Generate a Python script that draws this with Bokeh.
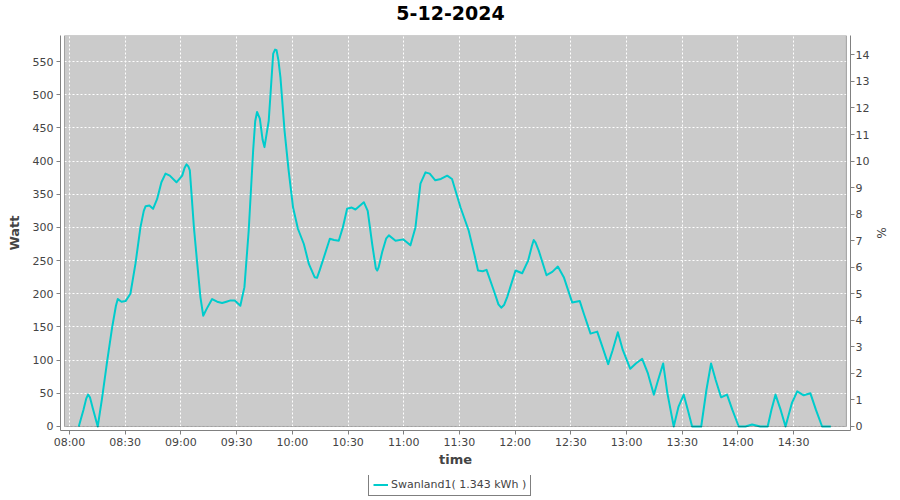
from bokeh.plotting import figure
from bokeh.layouts import column
from bokeh.models import (ColumnDataSource, Range1d, LinearAxis, FixedTicker,
                          BoxAnnotation, Legend, LegendItem, Label)
from bokeh.embed import file_html
from bokeh.resources import INLINE

# ---------------- data ----------------
title_text = "5-12-2024"
series_name = "Swanland1( 1.343 kWh )"

# minutes after 08:00
minutes = [5.0, 7.5, 9.0, 10.0, 11.0, 12.5, 15.2, 17.5, 20.3, 23.0, 25.0, 26.0,
           28.0, 30.2, 32.8, 35.5, 38.2, 40.0, 41.0, 43.0, 45.0, 47.2, 49.5,
           51.7, 54.0, 57.6, 60.7, 62.0, 63.0, 64.0, 64.8, 67.0, 68.8, 70.5,
           72.0, 74.0, 76.8, 79.5, 82.2, 84.5, 86.7, 89.0, 92.0, 94.2, 96.5,
           98.9, 100.0, 101.0, 102.5, 104.0, 105.0, 107.3, 109.7, 110.7, 111.5,
           112.5, 113.6, 115.8, 118.0, 120.4, 123.0, 126.2, 128.9, 132.0, 133.3,
           134.8, 137.0, 140.2, 142.5, 145.0, 147.2, 149.5, 152.0, 154.0, 156.5,
           158.5, 160.6, 163.0, 165.0, 165.7, 166.5, 168.4, 170.5, 172.0, 175.6,
           179.7, 181.5, 183.6, 186.3, 189.0, 191.7, 194.0, 197.0, 200.0, 203.4,
           206.0, 210.6, 215.0, 218.0, 220.0, 222.5, 224.6, 228.5, 231.0, 232.5,
           234.0, 235.7, 240.2, 243.8, 247.0, 249.0, 250.0, 251.0, 252.7, 256.9,
           260.0, 263.0, 266.2, 270.7, 274.8, 277.0, 280.6, 284.2, 287.0, 290.1,
           292.5, 295.3, 298.0, 302.0, 305.0, 308.4, 311.5, 314.7, 317.0, 319.7,
           322.0, 325.4, 328.0, 330.8, 333.0, 335.3, 340.2, 343.0, 345.5, 348.0,
           350.9, 354.1, 357.0, 360.4, 364.0, 367.6, 372.0, 376.0, 378.0, 380.2,
           383.0, 385.6, 389.0, 391.9, 395.4, 399.0, 402.0, 405.3, 410.0]
watts = [0, 25, 42, 48, 44, 28, 0, 42, 99, 150, 182, 192,
         188, 189, 200, 245, 300, 325, 332, 333, 328, 343, 368,
         381, 378, 368, 378, 390, 395, 392, 386, 300, 245, 195,
         167, 178, 192, 188, 186, 188, 190, 190, 182, 210, 295,
         416, 460, 474, 464, 432, 421, 461, 562, 568, 567,
         552, 526, 446, 386, 330, 298, 275, 245, 225, 224,
         236, 255, 283, 281, 280, 300, 328, 330, 327, 333,
         338, 325, 275, 238, 235, 240, 263, 283, 288, 280,
         282, 278, 273, 300, 366, 383, 381, 371, 373, 378,
         373, 330, 295, 260, 235, 234, 236, 205, 184, 179,
         183, 195, 235, 231, 250, 272, 281, 277, 265, 228,
         233, 241, 225, 187, 189, 170, 140, 143, 120, 94,
         115, 142, 115, 87, 95, 102, 80, 48, 70, 95,
         50, 0, 30, 48, 25, 0, 0, 55, 95, 70,
         44, 48, 25, 0, 0, 3, 0, 0, 25, 48,
         25, 0, 35, 53, 47, 50, 25, 0, 0]

tick_minutes = [0, 30, 60, 90, 120, 150, 180, 210, 240, 270, 300, 330, 360, 390]
tick_labels = ["08:00", "08:30", "09:00", "09:30", "10:00", "10:30", "11:00",
               "11:30", "12:00", "12:30", "13:00", "13:30", "14:00", "14:30"]
watt_ticks = [0, 50, 100, 150, 200, 250, 300, 350, 400, 450, 500, 550]
pct_ticks = [0, 1, 2, 3, 4, 5, 6, 7, 8, 9, 10, 11, 12, 13, 14]
watt_per_pct = 40

# ---------------- styling ----------------
FONT = "DejaVu Sans"
TXT = "#444444"
AXIS = "#808080"
BG = "#CBCBCB"
LINE = "#00CCCC"

x_lo, x_hi = -4.85, 420.6
y_lo, y_hi = -6.03, 589.2


def strip(height):
    f = figure(width=900, height=height, output_backend="svg",
               toolbar_location=None, x_range=Range1d(0, 1), y_range=Range1d(0, 1),
               min_border_left=0, min_border_right=0, min_border_top=0,
               min_border_bottom=0, x_axis_location=None, y_axis_location=None,
               background_fill_color="white", border_fill_color="white")
    f.outline_line_color = None
    f.grid.visible = False
    return f


# title strip
p0 = strip(35)
p0.add_layout(Label(x=390, y=23, x_units="screen", y_units="screen",
                    text=title_text, text_align="center",
                    text_baseline="alphabetic", text_font=FONT,
                    text_font_size="19px", text_font_style="bold",
                    text_color="black"))

# main chart
p = figure(width=900, height=440, output_backend="svg", toolbar_location=None,
           x_range=Range1d(x_lo, x_hi), y_range=Range1d(y_lo, y_hi),
           min_border_left=60, min_border_right=50, min_border_top=0,
           min_border_bottom=45, background_fill_color="white",
           border_fill_color="white")
p.outline_line_color = None

# plot area (inset by the axis offset) and its black outline
inner_left, inner_right, inner_bottom = -2.69, 418.4, 0
p.add_layout(BoxAnnotation(left=inner_left, right=inner_right, bottom=inner_bottom,
                           fill_color=BG, fill_alpha=1, line_color=None,
                           level="image"))
p.add_layout(BoxAnnotation(left=inner_left, right=inner_right, bottom=inner_bottom,
                           fill_alpha=0, line_color="black", line_width=1,
                           level="annotation"))

# grids
p.xgrid.ticker = FixedTicker(ticks=tick_minutes)
p.ygrid.ticker = FixedTicker(ticks=watt_ticks)
for g in (p.xgrid, p.ygrid):
    g.grid_line_color = "white"
    g.grid_line_dash = "2 2"
    g.grid_line_width = 1

src = ColumnDataSource(dict(minutes=minutes, watts=watts))
r = p.line(x="minutes", y="watts", source=src, line_color=LINE, line_width=2,
           line_join="round")

# secondary % range
p.extra_y_ranges = {"pct": Range1d(y_lo / watt_per_pct, y_hi / watt_per_pct)}
raxis = LinearAxis(y_range_name="pct", ticker=FixedTicker(ticks=pct_ticks),
                   axis_label="%")
p.add_layout(raxis, "right")


def style_axis(ax):
    ax.axis_line_color = AXIS
    ax.major_tick_line_color = AXIS
    ax.major_tick_in = 0
    ax.major_tick_out = 4
    ax.minor_tick_line_color = None
    ax.major_label_text_font = FONT
    ax.major_label_text_font_size = "11px"
    ax.major_label_text_color = TXT
    ax.major_label_standoff = 3
    ax.axis_label_text_font = FONT
    ax.axis_label_text_font_style = "bold"
    ax.axis_label_text_font_size = "13px"
    ax.axis_label_text_color = TXT


p.xaxis.ticker = FixedTicker(ticks=tick_minutes)
p.xaxis.major_label_overrides = {t: l for t, l in zip(tick_minutes, tick_labels)}
p.xaxis.axis_label = "time"
p.yaxis[0].ticker = FixedTicker(ticks=watt_ticks)
p.yaxis[0].axis_label = "Watt"
for ax in (p.xaxis[0], p.yaxis[0], raxis):
    style_axis(ax)
p.xaxis.major_label_standoff = 1
p.xaxis.axis_label_standoff = 0
p.yaxis[0].axis_label_standoff = 8
raxis.major_label_standoff = 1
raxis.axis_label_standoff = 2
raxis.axis_label_text_font_style = "normal"
raxis.axis_label_text_font_size = "12px"

# legend strip under the chart (frames of the column are aligned)
p2 = strip(25)
r2 = p2.line(x="minutes", y="watts", source=src, line_color=LINE, line_width=2)
legend = Legend(items=[LegendItem(label=series_name, renderers=[r2])],
                location=(308, 4), orientation="horizontal",
                border_line_color="black", border_line_width=1,
                background_fill_color="white", background_fill_alpha=1,
                label_text_font=FONT, label_text_font_size="11px",
                label_text_color=TXT, glyph_width=15, glyph_height=11,
                label_standoff=3, padding=4, margin=0, label_height=11,
                spacing=0)
p2.add_layout(legend, "center")

layout = column(p0, p, p2, spacing=0)
open("out.html", "w").write(file_html(layout, INLINE))
